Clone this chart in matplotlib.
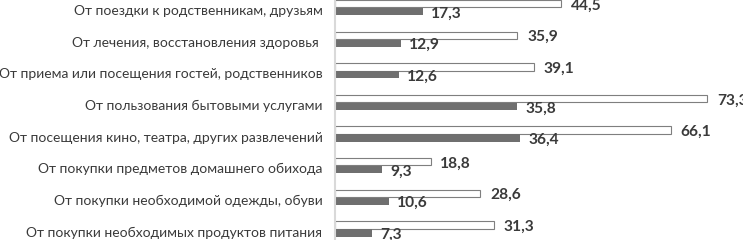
import numpy as np
import matplotlib.pyplot as plt

# Категории (сверху вниз)
categories = [
    "От поездки к родственникам, друзьям",
    "От лечения, восстановления здоровья ",
    "От приема или посещения гостей, родственников",
    "От пользования бытовыми услугами",
    "От посещения кино, театра, других развлечений",
    "От покупки предметов домашнего обихода",
    "От покупки необходимой одежды, обуви",
    "От покупки необходимых продуктов питания",
]
values_white = [44.5, 35.9, 39.1, 73.3, 66.1, 18.8, 28.6, 31.3]
values_dark = [17.3, 12.9, 12.6, 35.8, 36.4, 9.3, 10.6, 7.3]

text_color = "#3a3a3a"
plt.rcParams["font.family"] = ["Lato", "DejaVu Sans"]

fig = plt.figure(figsize=(7.43, 2.4), dpi=100)
ax = fig.add_axes([335 / 743, 0, (743 - 335) / 743, 1])

y = np.arange(len(categories))
h = 0.23
ax.barh(y - h / 2 - 0.01, values_white, height=h, color="white",
        edgecolor="#7f7f7f", linewidth=0.8)
ax.barh(y + h / 2 + 0.01, values_dark, height=h, color="#6f6f6f", linewidth=0)

# подписи значений
for yi, v in zip(y, values_white):
    ax.annotate(f"{v:.1f}".replace(".", ","), (v, yi - h / 2 + 0.05),
                xytext=(7, 0), textcoords="offset points", va="center",
                ha="left", fontsize=11.2, fontweight="bold", color=text_color)
for yi, v in zip(y, values_dark):
    ax.annotate(f"{v:.1f}".replace(".", ","), (v, yi + h / 2 + 0.07),
                xytext=(6, 0), textcoords="offset points", va="center",
                ha="left", fontsize=11.2, fontweight="bold", color=text_color)

ax.set_yticks(y + 0.08)
ax.set_yticklabels(categories, fontsize=10, color=text_color)
ax.tick_params(axis="y", length=0, pad=9)
ax.set_xticks([])

ax.set_xlim(0, 80.3)
ax.set_ylim(7.35, -0.24)

for s in ["top", "right", "bottom"]:
    ax.spines[s].set_visible(False)
ax.spines["left"].set_color("#d9d9d9")
ax.spines["left"].set_linewidth(1.5)

fig.savefig("out.png", dpi=100)
